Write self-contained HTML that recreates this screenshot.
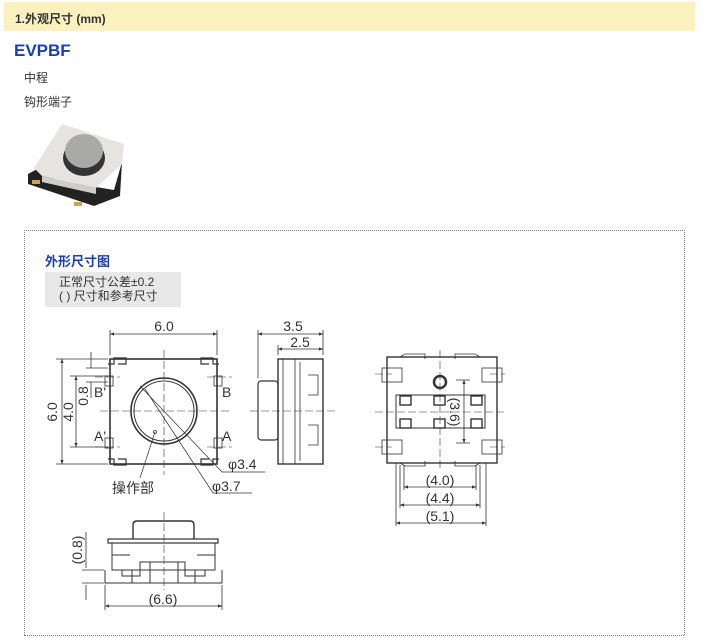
<!DOCTYPE html>
<html><head><meta charset="utf-8">
<style>
body{margin:0;width:702px;height:638px;background:#fff;position:relative;overflow:hidden;font-family:"Liberation Sans","Noto Sans CJK SC",sans-serif;}
.hdr{position:absolute;left:4px;top:2px;width:691px;height:29px;background:#faf1bf;}
.hdr span{position:absolute;left:11px;top:8px;font-size:12px;font-weight:bold;color:#333;}
.t{position:absolute;font-size:12px;color:#333;}
.box{position:absolute;left:24px;top:230px;width:659px;height:404px;border:1px dotted #888;border-bottom:none;}
.bot{position:absolute;left:24px;top:635px;width:660px;border-top:1px dotted #888;}
.note{position:absolute;left:45px;top:272px;width:136px;height:35px;background:#e8e8e8;}
</style></head><body>
<div class="hdr"><span>1.外观尺寸 (mm)</span></div>
<div class="t" style="left:14px;top:41px;font-size:17px;font-weight:bold;color:#1a3fb0;">EVPBF</div>
<div class="t" style="left:24px;top:69px;">中程</div>
<div class="t" style="left:24px;top:93px;">钩形端子</div>
<svg style="position:absolute;left:24px;top:118px" width="104" height="92">
<polygon points="4,56 26,44 30,62 90,72 98,44 96,78 70,88 4,66" fill="#222"/>
<polygon points="10,50 38,6 100,26 98,46 72,70 18,58" fill="#e6e4e1"/>
<polygon points="18,58 72,70 72,76 18,64" fill="#cfcdc9"/>
<ellipse cx="60" cy="40" rx="21" ry="18" fill="#333"/>
<ellipse cx="60" cy="33" rx="19" ry="17" fill="#a9a9a8"/>
<rect x="8" y="62" width="8" height="4" fill="#c9a553"/><rect x="50" y="84" width="8" height="4" fill="#c9a553"/>
</svg>
<div class="box"></div><div class="bot"></div>
<div class="t" style="left:45px;top:251px;font-size:13px;font-weight:bold;color:#1a3fb0;">外形尺寸图</div>
<div class="note"></div>
<div class="t" style="left:59px;top:275px;font-size:12px;line-height:14px;">正常尺寸公差±0.2<br>( ) 尺寸和参考尺寸</div>
<svg style="position:absolute;left:0;top:0" width="702" height="638" font-family="Liberation Sans, Noto Sans CJK SC, sans-serif" font-size="14" fill="#333">
<defs><marker id="a" markerWidth="6" markerHeight="6" refX="5" refY="3" orient="auto-start-reverse"><path d="M0,1 L5,3 L0,5" fill="#333"/></marker></defs>
<g stroke="#333" stroke-width="0.8" fill="none">
<rect x="110" y="359" width="107" height="105" stroke-width="1.6"/>
<path d="M108,364 h6 v-6 h12 v6 h-8 M219,364 h-6 v-6 h-12 v6 h8 M108,459 h6 v6 h12 v-6 h-8 M219,459 h-6 v6 h-12 v-6 h8" stroke-width="1.2"/>
<rect x="105" y="376" width="8" height="10"/><rect x="214" y="376" width="8" height="10"/><rect x="105" y="438" width="8" height="10"/><rect x="214" y="438" width="8" height="10"/>
<circle cx="164" cy="411" r="33" stroke-width="1.6"/><circle cx="164" cy="411" r="30" stroke-width="1"/>
<circle cx="155" cy="432" r="1.5"/>
<path d="M164,350 V475 M100,411 H230 M95,377 H120 M95,447 H120 M207,377 H232 M207,447 H232" stroke-dasharray="8,3" stroke-width="0.6"/>
<path d="M140,386 L222,472 H265 M145,389 L213,493 H252 M155,432 L140,478" stroke-width="0.7"/>
<path d="M110,355 V330 M217,355 V330 M56,359 H108 M56,464 H108 M70,376 H108 M70,447 H108 M86,368 H108 M86,382 H108"/>
<line x1="110" y1="334" x2="217" y2="334" marker-start="url(#a)" marker-end="url(#a)"/>
<line x1="62" y1="359" x2="62" y2="464" marker-start="url(#a)" marker-end="url(#a)"/>
<line x1="76" y1="376" x2="76" y2="447" marker-start="url(#a)" marker-end="url(#a)"/>
<path d="M91,352 V368 M91,382 V398"/>
<rect x="278" y="359" width="45" height="105" stroke-width="1.4"/>
<path d="M283,359 V464 M295,359 V464 M300,362 V461 M308,375 h10 v20 h-10 M308,425 h10 v20 h-10"/>
<rect x="258" y="381" width="20" height="59" rx="3" stroke-width="1.2"/>
<path d="M250,411 H335" stroke-dasharray="8,3" stroke-width="0.6"/>
<path d="M258,378 V330 M323,355 V330 M278,355 V345"/>
<line x1="258" y1="334" x2="323" y2="334" marker-start="url(#a)" marker-end="url(#a)"/>
<line x1="278" y1="349" x2="323" y2="349" marker-start="url(#a)" marker-end="url(#a)"/>
<rect x="387" y="357" width="110" height="106" stroke-width="1.4"/>
<rect x="382" y="368" width="20" height="14"/><rect x="482" y="368" width="20" height="14"/><rect x="382" y="440" width="20" height="14"/><rect x="482" y="440" width="20" height="14"/>
<path d="M400,357 l5,-3 h20 v5 M480,357 l-5,-3 h-20 v5 M400,463 l5,3 h20 v-5 M480,463 l-5,3 h-20 v-5"/>
<rect x="396" y="395" width="89" height="33" stroke-width="1"/>
<circle cx="440" cy="382" r="6" stroke-width="2.5"/>
<rect x="400" y="396" width="11" height="9" stroke-width="1.4"/><rect x="434" y="396" width="11" height="9" stroke-width="1.4"/><rect x="471" y="396" width="11" height="9" stroke-width="1.4"/>
<rect x="400" y="419" width="11" height="9" stroke-width="1.4"/><rect x="434" y="419" width="11" height="9" stroke-width="1.4"/><rect x="471" y="419" width="11" height="9" stroke-width="1.4"/>
<path d="M440,350 V470 M375,412 H505 M375,374 H392 M490,374 H505 M375,447 H392 M490,447 H505" stroke-dasharray="8,3" stroke-width="0.6"/>
<path d="M456,380 H470 M456,443 H470 M404,465 V490 M476,465 V490 M400,465 V508 M480,465 V508 M396,463 V526 M486,463 V526"/>
<line x1="464" y1="380" x2="464" y2="443" marker-start="url(#a)" marker-end="url(#a)"/>
<line x1="404" y1="487" x2="476" y2="487" marker-start="url(#a)" marker-end="url(#a)"/>
<line x1="400" y1="505" x2="480" y2="505" marker-start="url(#a)" marker-end="url(#a)"/>
<line x1="396" y1="523" x2="486" y2="523" marker-start="url(#a)" marker-end="url(#a)"/>
<path d="M133,539 V525 q0,-4 4,-4 h53 q4,0 4,4 V539" stroke-width="1.4"/>
<rect x="108" y="539" width="110" height="4" stroke-width="1.2"/>
<path d="M112,543 V570 H215 V543 M112,555 H130 M197,555 H215 M122,570 V576 H140 V562 H185 V576 H205 V570 M105,570 V583 H222 V570 M150,562 V583 M178,562 V583 M132,570 V583 M195,570 V583" stroke-width="1"/>
<path d="M164,512 V590" stroke-dasharray="8,3" stroke-width="0.6"/>
<path d="M82,570 H104 M82,583 H104 M105,585 V610 M222,585 V610 M86,532 V568 M86,585 V600"/>
<line x1="105" y1="606" x2="222" y2="606" marker-start="url(#a)" marker-end="url(#a)"/>
</g>
<text x="164" y="331" text-anchor="middle">6.0</text>
<text transform="translate(57,412) rotate(-90)" text-anchor="middle">6.0</text>
<text transform="translate(73,412) rotate(-90)" text-anchor="middle">4.0</text>
<text transform="translate(88,396) rotate(-90)" text-anchor="middle">0.8</text>
<text x="94" y="397">B'</text><text x="94" y="441">A'</text>
<text x="222" y="397">B</text><text x="222" y="441">A</text>
<text x="228" y="469">φ3.4</text>
<text x="212" y="491">φ3.7</text>
<text x="112" y="493">操作部</text>
<text x="293" y="331" text-anchor="middle">3.5</text>
<text x="300" y="347" text-anchor="middle">2.5</text>
<text transform="translate(450,412) rotate(90)" text-anchor="middle">(3.6)</text>
<text x="440" y="485" text-anchor="middle">(4.0)</text>
<text x="440" y="503" text-anchor="middle">(4.4)</text>
<text x="440" y="521" text-anchor="middle">(5.1)</text>
<text transform="translate(82,550) rotate(-90)" text-anchor="middle">(0.8)</text>
<text x="163" y="604" text-anchor="middle">(6.6)</text>
</svg>
</body></html>
